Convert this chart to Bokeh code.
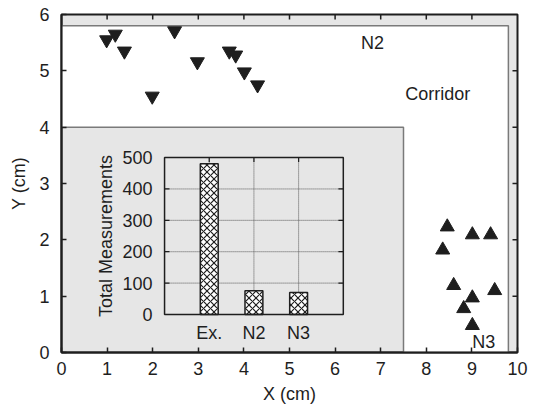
from bokeh.plotting import figure
from bokeh.models import Range1d, FixedTicker
from bokeh.core.properties import value
from bokeh.embed import file_html
from bokeh.resources import INLINE

# ---------------- data ----------------
# N2 measurements (inverted triangles)
n2_x = [0.99, 1.18, 1.38, 1.99, 2.48, 2.98, 3.68, 3.82, 4.01, 4.30]
n2_y = [5.55, 5.65, 5.35, 4.55, 5.71, 5.16, 5.35, 5.28, 4.98, 4.75]
# N3 measurements (triangles)
n3_x = [8.46, 9.01, 9.41, 8.36, 8.60, 9.50, 9.01, 8.82, 9.01]
n3_y = [2.23, 2.09, 2.09, 1.82, 1.19, 1.10, 0.97, 0.78, 0.48]

# inset bar chart
bar_labels = ["Ex.", "N2", "N3"]
bar_values = [480, 76, 70]
inset_y_ticks = [0, 100, 200, 300, 400, 500]

# main ticks
x_ticks = list(range(0, 11))
y_ticks = list(range(0, 7))

# corridor (white) region outline
corridor_x = [0, 0, 9.8, 9.8, 7.5, 7.5]
corridor_y = [4, 5.8, 5.8, 0, 0, 4]

FONT = "Liberation Sans"
DARK = "#1e1e1e"
GRAY = "#e6e6e6"

p = figure(width=531, height=416,
           x_range=Range1d(x_ticks[0], x_ticks[-1]), y_range=Range1d(y_ticks[0], y_ticks[-1]),
           output_backend="svg", toolbar_location=None,
           min_border_left=61, min_border_right=14,
           min_border_top=14, min_border_bottom=64)
p.background_fill_color = GRAY
p.border_fill_color = "white"
p.grid.visible = False
p.outline_line_color = DARK
p.outline_line_width = 2

for ax in (p.xaxis[0], p.yaxis[0]):
    ax.axis_line_color = DARK
    ax.axis_line_width = 2
    ax.major_tick_in = 5
    ax.major_tick_out = 0
    ax.major_tick_line_color = DARK
    ax.major_tick_line_width = 1.5
    ax.minor_tick_line_color = None
    ax.major_label_text_font = FONT
    ax.major_label_text_font_size = "18px"
    ax.major_label_text_color = DARK
    ax.axis_label_text_font = FONT
    ax.axis_label_text_font_size = "18px"
    ax.axis_label_text_font_style = "normal"
    ax.axis_label_text_color = DARK

p.xaxis.ticker = FixedTicker(ticks=x_ticks)
p.yaxis.ticker = FixedTicker(ticks=y_ticks)
p.xaxis.axis_label = "X (cm)"
p.yaxis.axis_label = "Y (cm)"
p.xaxis.major_label_standoff = 9
p.xaxis.axis_label_standoff = 6
p.yaxis.major_label_standoff = 12
p.yaxis.axis_label_standoff = 7

# white corridor region
p.patch(corridor_x, corridor_y, fill_color="white", line_color="#7a7a7a", line_width=1.5)

# mirrored inward ticks on top and right edges (dash markers, clipped by the frame)
p.scatter(x=x_ticks[1:-1], y=[y_ticks[-1]] * (len(x_ticks) - 2), marker="dash", angle=1.5708,
          size=10, line_color=DARK, line_width=1.5)
p.scatter(x=[x_ticks[-1]] * (len(y_ticks) - 2), y=y_ticks[1:-1], marker="dash",
          size=10, line_color=DARK, line_width=1.5)

# ---------------- inset (own ranges mapped into a sub-box of the frame) ----------------
inset_box_x = (2.26, 6.18)   # main-x span of inset frame
inset_box_y = (0.675, 3.46)  # main-y span of inset frame
ix0, ix1 = 0, len(bar_labels) + 1
iy0, iy1 = inset_y_ticks[0], inset_y_ticks[-1]

def extra_range(a, b, m0, m1, lo, hi):
    k = (b - a) / (m1 - m0)
    return Range1d(a - k * (m0 - lo), a + k * (hi - m0))

p.extra_x_ranges = {"ix": extra_range(ix0, ix1, inset_box_x[0], inset_box_x[1], x_ticks[0], x_ticks[-1])}
p.extra_y_ranges = {"iy": extra_range(iy0, iy1, inset_box_y[0], inset_box_y[1], y_ticks[0], y_ticks[-1])}
R = dict(x_range_name="ix", y_range_name="iy")

bar_pos = [i + 1 for i in range(len(bar_labels))]
grid_y = inset_y_ticks[1:-1]

# dotted grid
p.segment(x0=[ix0] * len(grid_y), y0=grid_y, x1=[ix1] * len(grid_y), y1=grid_y,
          line_color="#555555", line_width=1, line_dash="1 1", **R)
p.segment(x0=bar_pos, y0=[iy0] * len(bar_pos), x1=bar_pos, y1=[iy1] * len(bar_pos),
          line_color="#555555", line_width=1, line_dash="1 1", **R)
# small inward ticks
tick_dx = 0.11
tick_dy = 14
p.segment(x0=[ix0] * len(grid_y), y0=grid_y, x1=[ix0 + tick_dx] * len(grid_y), y1=grid_y,
          line_color=DARK, line_width=1.2, **R)
p.segment(x0=[ix1] * len(grid_y), y0=grid_y, x1=[ix1 - tick_dx] * len(grid_y), y1=grid_y,
          line_color=DARK, line_width=1.2, **R)
p.segment(x0=bar_pos, y0=[iy1] * len(bar_pos), x1=bar_pos, y1=[iy1 - tick_dy] * len(bar_pos),
          line_color=DARK, line_width=1.2, **R)

# bars
p.vbar(x=bar_pos, top=bar_values, bottom=0, width=0.4,
       fill_color="white", line_color=DARK, line_width=1.5,
       hatch_pattern="x", hatch_scale=7, hatch_weight=1.2, hatch_color=DARK, **R)

# inset frame
p.quad(left=[ix0], right=[ix1], bottom=[iy0], top=[iy1],
       fill_color=None, line_color=DARK, line_width=1.5, **R)

# inset tick labels
p.text(x=[ix0] * len(inset_y_ticks), y=inset_y_ticks, text=[str(v) for v in inset_y_ticks],
       x_offset=-12, text_align="right", text_baseline="middle",
       text_font=value(FONT), text_font_size="18px", text_color=DARK, **R)
p.text(x=bar_pos, y=[iy0] * len(bar_pos), text=bar_labels,
       y_offset=19, text_align="center", text_baseline="alphabetic",
       text_font=value(FONT), text_font_size="18px", text_color=DARK, **R)
p.text(x=[-1.30], y=[(iy0 + iy1) / 2], text=["Total Measurements"], angle=1.5708,
       text_align="center", text_baseline="middle",
       text_font=value(FONT), text_font_size="18px", text_color=DARK, **R)

# ---------------- markers ----------------
p.scatter(n2_x, n2_y, marker="inverted_triangle", size=14, fill_color=DARK, line_color=DARK)
p.scatter(n3_x, n3_y, marker="triangle", size=14, fill_color=DARK, line_color=DARK)

# region labels
p.text(x=[6.82, 8.25, 9.26], y=[5.50, 4.58, 0.19], text=["N2", "Corridor", "N3"],
       text_align="center", text_baseline="middle",
       text_font=value(FONT), text_font_size="18px", text_color=DARK)

open("out.html", "w").write(file_html(p, INLINE))
